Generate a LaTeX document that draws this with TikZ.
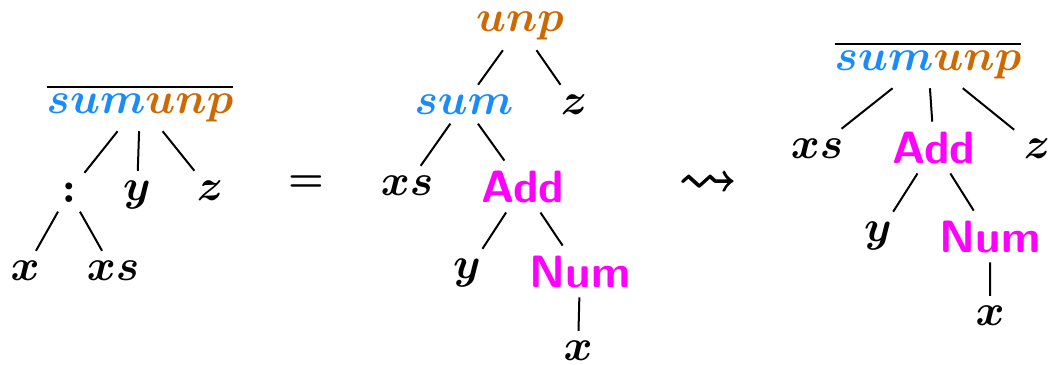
\documentclass[tikz,border=0pt]{standalone}
\usepackage{amsmath,amssymb,bm}
\definecolor{cblue}{RGB}{25,140,250}
\definecolor{corange}{RGB}{205,105,0}
\definecolor{cmag}{RGB}{255,0,255}
\newcommand{\bsum}{\textcolor{cblue}{\bm{sum}}}
\newcommand{\bunp}{\textcolor{corange}{\bm{unp}}}
\newcommand{\heavyleadsto}{\rlap{$\leadsto$}\rlap{\hspace{0.3pt}$\leadsto$}\rlap{\hspace{0.15pt}\raisebox{0.25pt}{$\leadsto$}}\hspace{0.3pt}$\leadsto$}
\begin{document}
\begin{tikzpicture}[x=0.25pt,y=-0.25pt,
  tn/.style={anchor=base,inner sep=2pt,scale=1.1},
  cn/.style={tn,text=cmag,font=\sffamily\bfseries,scale=1.03},
  edge/.style={line width=0.5pt}]
\useasboundingbox (0,0) rectangle (1057,364);
% left tree
\node[tn] (L) at (140,113) {$\overline{\bsum\bunp}$};
\node[tn] (Lc) at (69,202) {$\bm{:}$};
\node[tn] (Ly) at (137,200) {$\bm{y}$};
\node[tn] (Lz) at (210,200) {$\bm{z}$};
\node[tn] (Lx) at (25,280) {$\bm{x}$};
\node[tn] (Lxs) at (113,280) {$\bm{xs}$};
\draw[edge] (L) -- (Lc);
\draw[edge] (L) -- (Ly);
\draw[edge] (L) -- (Lz);
\draw[edge] (Lc) -- (Lx);
\draw[edge] (Lc) -- (Lxs);
% equals
\node[anchor=center] (eq) at (306,184) {$\bm{=}$};
% middle tree
\node[tn] (M) at (520,32) {$\bunp$};
\node[tn] (Ms) at (464,114) {$\bsum$};
\node[tn] (Mz) at (574,114) {$\bm{z}$};
\node[tn] (Mxs) at (407,195) {$\bm{xs}$};
\node[cn] (Ma) at (523,202) {Add};
\node[tn] (My) at (467,278) {$\bm{y}$};
\node[cn] (Mn) at (580,287) {Num};
\node[tn] (Mx) at (578,360) {$\bm{x}$};
\draw[edge] (M) -- (Ms);
\draw[edge] (M) -- (Mz);
\draw[edge] (Ms) -- (Mxs);
\draw[edge] (Ms) -- (Ma);
\draw[edge] (Ma) -- (My);
\draw[edge] (Ma) -- (Mn);
\draw[edge] (Mn) -- (Mx);
% leadsto
\node[anchor=center,scale=1.45] (lt) at (708,185) {\heavyleadsto};
% right tree
\node[tn] (R) at (928,70) {$\overline{\bsum\bunp}$};
\node[tn] (Rxs) at (817,158) {$\bm{xs}$};
\node[cn] (Ra) at (934,163) {Add};
\node[tn] (Rz) at (1037,158) {$\bm{z}$};
\node[tn] (Ry) at (878,241) {$\bm{y}$};
\node[cn] (Rn) at (990,252) {Num};
\node[tn] (Rx) at (990,325) {$\bm{x}$};
\draw[edge] (R) -- (Rxs);
\draw[edge] (R) -- (Ra);
\draw[edge] (R) -- (Rz);
\draw[edge] (Ra) -- (Ry);
\draw[edge] (Ra) -- (Rn);
\draw[edge] (Rn) -- (Rx);
\end{tikzpicture}
\end{document}
